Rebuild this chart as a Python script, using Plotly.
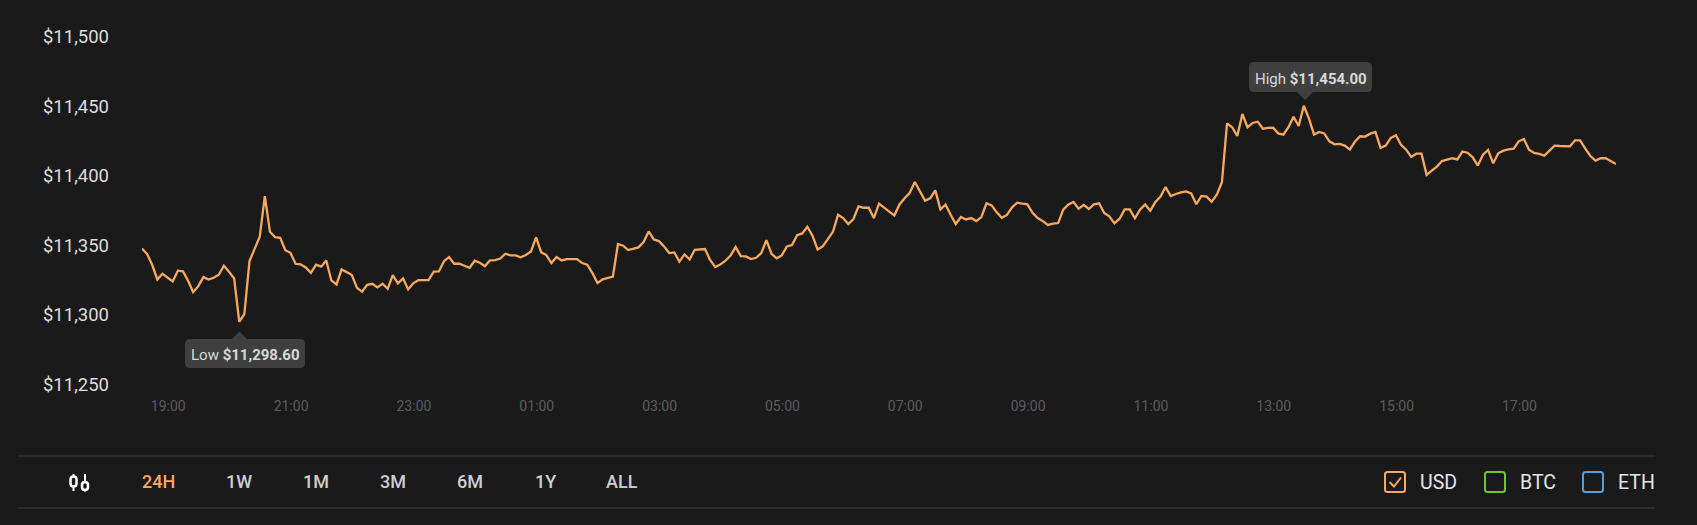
import pandas as pd
import plotly.graph_objects as go

START = "2020-08-01 18:34:20"
STEP_MIN = 5
PRICE = [
11351.3,11347.3,11339.4,11329.0,11333.1,11330.2,11327.6,11335.3,11334.8,11328.1,
11319.9,11324.2,11330.7,11329.0,11330.2,11332.4,11338.9,11334.6,11329.8,11298.6,
11304.1,11342.2,11350.9,11359.7,11389.0,11363.3,11359.5,11359.0,11350.1,11348.2,
11340.3,11339.8,11337.7,11333.8,11339.6,11338.2,11342.7,11328.3,11325.4,11336.2,
11334.3,11332.2,11323.0,11320.2,11325.2,11325.9,11323.3,11325.9,11322.3,11332.2,
11326.2,11329.8,11321.8,11326.2,11328.6,11328.6,11328.6,11334.6,11334.8,11342.2,
11345.1,11340.3,11340.3,11338.9,11337.4,11342.5,11341.0,11338.6,11342.7,11342.9,
11344.1,11347.5,11346.3,11346.3,11344.9,11346.6,11349.2,11359.3,11348.5,11346.6,
11340.8,11345.1,11342.7,11343.7,11343.7,11343.7,11340.8,11339.6,11333.6,11326.4,
11329.1,11330.0,11331.0,11354.5,11353.3,11350.2,11350.9,11352.1,11355.9,11363.6,
11357.8,11356.6,11352.8,11348.0,11348.5,11341.8,11347.0,11343.4,11350.4,11350.6,
11350.9,11343.0,11337.9,11339.8,11342.5,11346.3,11352.3,11345.8,11345.6,11343.7,
11344.6,11348.0,11357.3,11347.5,11344.2,11346.3,11352.8,11353.8,11360.9,11362.1,
11366.9,11360.5,11350.6,11352.8,11358.3,11363.3,11375.6,11373.2,11368.9,11372.5,
11381.6,11380.6,11380.6,11373.2,11383.5,11380.4,11377.8,11375.1,11383.0,11387.4,
11391.4,11399.1,11392.6,11385.7,11387.4,11393.1,11379.4,11382.8,11375.6,11368.9,
11373.9,11372.2,11373.2,11371.0,11373.9,11383.8,11382.3,11377.3,11373.4,11375.4,
11380.9,11384.2,11383.5,11383.0,11377.0,11373.2,11371.0,11368.2,11369.1,11369.6,
11379.2,11383.0,11384.7,11379.9,11382.6,11379.7,11383.0,11383.8,11376.8,11374.4,
11369.4,11372.7,11379.4,11379.4,11373.0,11379.2,11383.0,11378.5,11384.7,11388.6,
11395.5,11389.0,11390.5,11391.7,11392.3,11390.9,11383.1,11389.1,11388.6,11385.0,
11390.0,11398.9,11441.3,11438.5,11432.2,11448.1,11438.5,11441.6,11442.5,11437.5,
11438.0,11438.2,11434.1,11433.2,11438.5,11446.1,11439.4,11454.0,11444.9,11433.2,
11435.1,11434.1,11428.4,11426.2,11426.5,11425.3,11422.4,11428.2,11432.0,11431.8,
11433.9,11435.1,11423.6,11425.3,11430.8,11432.7,11425.8,11422.4,11417.1,11419.5,
11419.5,11404.2,11407.3,11410.2,11414.2,11415.2,11416.2,11415.4,11421.0,11420.2,
11416.9,11410.9,11418.8,11422.2,11412.6,11419.8,11421.7,11422.6,11423.1,11428.4,
11430.1,11422.4,11420.0,11419.3,11418.1,11421.7,11425.3,11425.0,11425.0,11424.8,
11429.1,11429.1,11423.1,11417.8,11414.5,11416.2,11416.2,11414.0,11412.1,
]
Y_TICKS = [11250, 11300, 11350, 11400, 11450, 11500]
RANGES = ["24H", "1W", "1M", "3M", "6M", "1Y", "ALL"]
CURRENCIES = ["USD", "BTC", "ETH"]
LOW_LABEL = "Low <b>$11,298.60</b>"
HIGH_LABEL = "High <b>$11,454.00</b>"

W, H = 1697, 525
L, R, T, B = 142, 81, 30, 130
BG = "#1b1a1b"
ORANGE = "#f9a95e"
FONT = "Roboto, sans-serif"

times = pd.date_range(START, periods=len(PRICE), freq=f"{STEP_MIN}min")


def px(x):
    return (x - L) / (W - L - R)


def py(y):
    return 1 - (y - T) / (H - T - B)


def pill(x0, y0, x1, y1, r=5):
    a, b, c, d = px(x0), py(y0), px(x1), py(y1)
    rx, ry = r / (W - L - R), r / (H - T - B)
    return (
        f"M{a+rx},{b} L{c-rx},{b} Q{c},{b} {c},{b-ry} L{c},{d+ry} Q{c},{d} {c-rx},{d} "
        f"L{a+rx},{d} Q{a},{d} {a},{d+ry} L{a},{b-ry} Q{a},{b} {a+rx},{b} Z"
    )


def poly(points):
    return "M" + " L".join(f"{px(x)},{py(y)}" for x, y in points)


shapes, ann = [], []


def shape_path(path, fill=None, line=None, lw=0):
    shapes.append(dict(type="path", xref="paper", yref="paper", path=path,
                       fillcolor=fill or "rgba(0,0,0,0)",
                       line=dict(color=line or "rgba(0,0,0,0)", width=lw)))


def text(x, y, s, size, color, anchor="center", weight=400):
    ann.append(dict(xref="paper", yref="paper", x=px(x), y=py(y), text=s, showarrow=False,
                    xanchor=anchor, yanchor="middle", borderpad=0,
                    font=dict(family=FONT, size=size, color=color, weight=weight)))


# tooltips
TIP = "#3f3f3f"
shape_path(pill(185, 339, 305, 368), fill=TIP)
shape_path(poly([(232, 339), (239.5, 331.5), (247, 339)]) + " Z", fill=TIP)
text(245, 355, LOW_LABEL, 15, "#d8d8d8")
shape_path(pill(1249, 62, 1372, 92), fill=TIP)
shape_path(poly([(1297, 92), (1305, 100), (1313, 92)]) + " Z", fill=TIP)
text(1310.5, 79, HIGH_LABEL, 15, "#d8d8d8")

# bottom bar
for yy in (456, 508):
    shapes.append(dict(type="line", xref="paper", yref="paper", x0=px(18), x1=px(1655),
                       y0=py(yy), y1=py(yy), line=dict(color="#3c3c3c", width=1)))
for name, cx in zip(RANGES, [158, 238.5, 315.5, 392.5, 469.5, 545, 622]):
    text(cx, 481.5, name, 18, ORANGE if name == "24H" else "#cfcfcf", weight=500)

# candlestick icon
for cx, wick, body in ((73.5, (474, 491), (476.5, 486.5)), (85, (474, 491.5), (482, 490))):
    shape_path(poly([(cx, wick[0]), (cx, wick[1])]), line="#ffffff", lw=2)
    shape_path(pill(cx - 3, body[0], cx + 3, body[1], r=3), fill=BG, line="#ffffff", lw=2.5)

# currency toggles
for name, box, tx, col in zip(CURRENCIES, [1385, 1485, 1583], [1419, 1518.5, 1617],
                              [ORANGE, "#71c621", "#4f9fe3"]):
    shape_path(pill(box, 472, box + 20, 492, r=2.5), line=col, lw=2)
    text(tx, 482, name, 19.5, "#e6e6e6", anchor="left")
shape_path(poly([(1389.5, 482), (1394, 486.5), (1401, 477.5)]), line=ORANGE, lw=2)

fig = go.Figure(go.Scatter(x=times, y=PRICE, mode="lines", cliponaxis=False, hoverinfo="skip",
                           line=dict(color=ORANGE, width=2.3)))
fig.update_layout(
    width=W, height=H, margin=dict(l=L, r=R, t=T, b=B, autoexpand=False),
    paper_bgcolor=BG, plot_bgcolor=BG, showlegend=False, shapes=shapes, annotations=ann,
    font=dict(family=FONT),
    xaxis=dict(range=[times[0], times[-1]], tickformat="%H:%M", dtick=2 * 3600 * 1000,
               tick0="2020-08-01 19:00:00", showgrid=False, zeroline=False, showline=False,
               ticks="", ticklabelstandoff=1, automargin=False,
               tickfont=dict(family=FONT, size=14, color="#5c5c5c")),
    yaxis=dict(range=[11245.9, 11508.46], tickvals=Y_TICKS,
               ticktext=[f"${v:,}" for v in Y_TICKS], showgrid=False, zeroline=False,
               showline=False, ticks="", ticklabelstandoff=32, ticklabelshift=-5, automargin=False,
               tickfont=dict(family=FONT, size=18.5, color="#dddddd")),
)
fig.write_html("out.html", config=dict(displayModeBar=False),
               post_script=f"document.body.style.margin='0';document.body.style.background='{BG}';document.documentElement.style.overflow='hidden';")
